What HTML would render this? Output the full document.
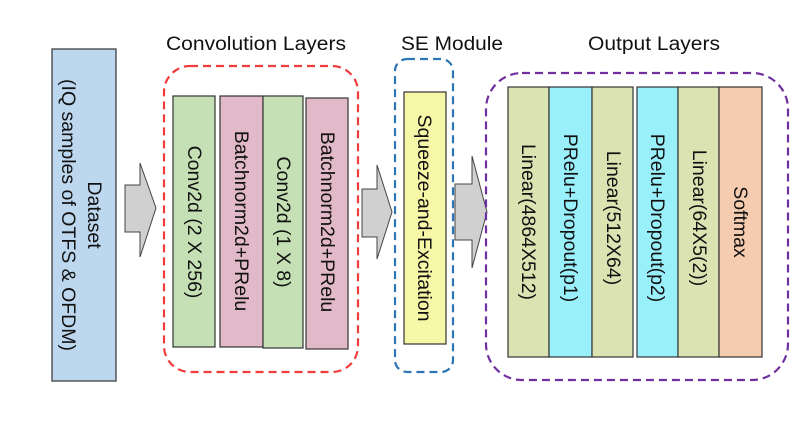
<!DOCTYPE html>
<html><head><style>body{margin:0;background:#fff}svg{display:block}text{font-family:"Liberation Sans",sans-serif;fill:#111}</style></head><body>
<svg width="806" height="439" viewBox="0 0 806 439" xmlns="http://www.w3.org/2000/svg">
<text x="256" y="50" font-size="19" text-anchor="middle" textLength="180" lengthAdjust="spacingAndGlyphs">Convolution Layers</text>
<text x="452" y="50" font-size="19" text-anchor="middle" textLength="102" lengthAdjust="spacingAndGlyphs">SE Module</text>
<text x="654" y="50" font-size="19" text-anchor="middle" textLength="132" lengthAdjust="spacingAndGlyphs">Output Layers</text>

<rect x="52" y="49" width="64" height="332" fill="#bdd7ee" stroke="#333" stroke-width="1.2"/>
<g font-size="19.5" text-anchor="middle">
<text transform="translate(88,215) rotate(90)">Dataset</text>
<text transform="translate(62,215) rotate(90)">(IQ samples of OTFS &amp; OFDM)</text>
</g>

<g fill="#d0d0d0" stroke="#444" stroke-width="1">
<polygon points="125,185 140,185 140,163 156,208 140,257 140,232 125,232"/>
<polygon points="362,189 377,189 377,165 392,212 377,259 377,237 362,237"/>
<polygon points="455,184 472,184 472,156 487,212 472,268 472,240 455,240"/>
</g>

<rect x="164" y="66" width="194" height="306" rx="26" fill="none" stroke="#f03c3c" stroke-width="2.2" stroke-dasharray="8,5"/>
<g stroke="#333" stroke-width="1.2">
<rect x="173" y="96" width="42" height="251" fill="#c5e0b4"/>
<rect x="220" y="96" width="43" height="251" fill="#e2b9c9"/>
<rect x="263" y="96" width="40" height="252" fill="#c5e0b4"/>
<rect x="306" y="98" width="42" height="251" fill="#e2b9c9"/>
</g>
<g font-size="19.5" text-anchor="middle">
<text transform="translate(188,222) rotate(90)">Conv2d  (2 X 256)</text>
<text transform="translate(235,221) rotate(90)">Batchnorm2d+PRelu</text>
<text transform="translate(277,222) rotate(90)">Conv2d  (1 X 8)</text>
<text transform="translate(321,222) rotate(90)">Batchnorm2d+PRelu</text>
</g>

<rect x="395" y="59" width="58" height="313" rx="12" fill="none" stroke="#2e75b6" stroke-width="2.2" stroke-dasharray="8,5"/>
<rect x="404" y="92" width="42" height="252" fill="#f7f7a8" stroke="#333" stroke-width="1.2"/>
<text transform="translate(418,218) rotate(90)" font-size="19.5" text-anchor="middle">Squeeze-and-Excitation</text>

<rect x="486" y="73" width="302" height="307" rx="36" fill="none" stroke="#7030a0" stroke-width="2.2" stroke-dasharray="8,5"/>
<g stroke="#333" stroke-width="1.2">
<rect x="508" y="87" width="41" height="270" fill="#dbe3b2"/>
<rect x="549" y="87" width="43" height="270" fill="#99f0fb"/>
<rect x="592" y="87" width="41" height="270" fill="#dbe3b2"/>
<rect x="637" y="87" width="41" height="270" fill="#99f0fb"/>
<rect x="678" y="87" width="41" height="270" fill="#dbe3b2"/>
<rect x="719" y="87" width="43" height="270" fill="#f6ccb0"/>
</g>
<g font-size="19.5" text-anchor="middle">
<text transform="translate(522,222) rotate(90)">Linear(4864X512)</text>
<text transform="translate(564,218) rotate(90)">PRelu+Dropout(p1)</text>
<text transform="translate(607,218) rotate(90)">Linear(512X64)</text>
<text transform="translate(651,218) rotate(90)">PRelu+Dropout(p2)</text>
<text transform="translate(693,218) rotate(90)">Linear(64X5(2))</text>
<text transform="translate(734,222) rotate(90)">Softmax</text>
</g>
</svg>
</body></html>
